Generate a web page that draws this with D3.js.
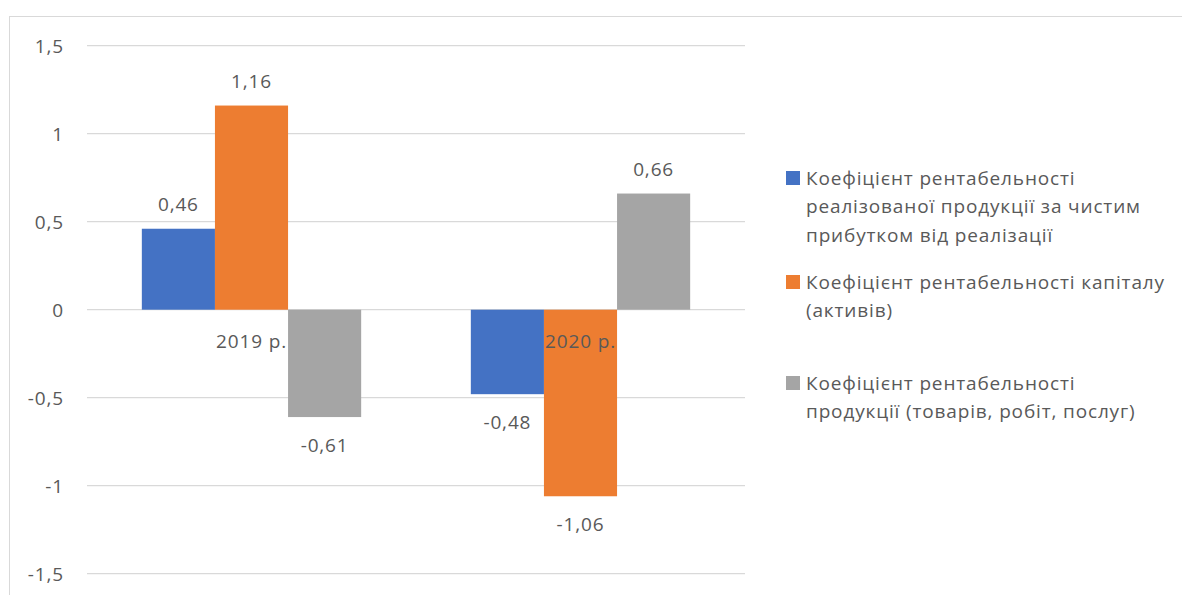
<!DOCTYPE html>
<html>
<head>
<meta charset="utf-8">
<script src="https://cdn.jsdelivr.net/npm/d3@7"></script>
<style>
  html, body { margin: 0; padding: 0; background: #fff; }
  svg { display: block; font-family: "Open Sans", "Noto Sans", sans-serif; }
  svg text { letter-spacing: 0.85px; }
</style>
</head>
<body>
<svg id="chart" width="1182" height="595"></svg>
<script>
// Years on the category axis
const categories = ["2019 р.", "2020 р."];

// Series names (legend), each split into the lines it wraps onto
const seriesNames = [
  ["Коефіцієнт рентабельності", "реалізованої продукції за чистим", "прибутком від реалізації"],
  ["Коефіцієнт рентабельності капіталу", "(активів)"],
  ["Коефіцієнт рентабельності", "продукції (товарів, робіт, послуг)"]
];

// Values per series, in category order
const salesNetProfit = [0.46, -0.48];
const capitalReturn = [1.16, -1.06];
const productReturn = [-0.61, 0.66];

const seriesColors = ["#4472c4", "#ed7d31", "#a5a5a5"];
const yTicks = [-1.5, -1, -0.5, 0, 0.5, 1, 1.5];

const seriesValues = [salesNetProfit, capitalReturn, productReturn];

const svg = d3.select("#chart");
const textColor = "#595959";
const fontSize = 19;
const fmt = v => String(v).replace(".", ",");

// Outer chart frame
svg.append("rect")
  .attr("x", 9.5).attr("y", 16.5)
  .attr("width", 1200).attr("height", 620)
  .attr("fill", "none").attr("stroke", "#d9d9d9");

const plot = { left: 87, right: 745, top: 45.7, bottom: 573.7 };

const y = d3.scaleLinear().domain([-1.5, 1.5]).range([plot.bottom, plot.top]);
const x0 = d3.scaleBand().domain(categories).range([plot.left, plot.right]).paddingInner(0).paddingOuter(0);
// 150% gap width: three bars take 3/(3+1.5) of each band
const groupWidth = x0.bandwidth() * 3 / 4.5;
const x1 = d3.scaleBand().domain(d3.range(seriesValues.length)).range([0, groupWidth]);

// Gridlines
svg.append("g")
  .selectAll("line")
  .data(yTicks)
  .join("line")
  .attr("x1", plot.left).attr("x2", plot.right)
  .attr("y1", d => y(d)).attr("y2", d => y(d))
  .attr("stroke", "#d9d9d9").attr("stroke-width", 1.3);

// Y axis labels
const yAxis = d3.axisLeft(y).tickValues(yTicks).tickSize(0).tickPadding(0).tickFormat(fmt);
const yg = svg.append("g").attr("transform", `translate(64,0)`).call(yAxis);
yg.select(".domain").remove();
yg.selectAll("text")
  .attr("fill", textColor).attr("font-size", fontSize)
  .attr("font-family", "\"Open Sans\", sans-serif")
  .attr("dy", "0.35em");

// Bars
const groups = svg.append("g")
  .selectAll("g")
  .data(categories)
  .join("g")
  .attr("transform", c => `translate(${x0(c) + (x0.bandwidth() - groupWidth) / 2},0)`);

const barData = (c, ci) => seriesValues.map((vals, si) => ({ si, v: vals[ci] }));

groups.each(function (c, ci) {
  const g = d3.select(this);
  const data = barData(c, ci);
  g.selectAll("rect")
    .data(data)
    .join("rect")
    .attr("x", d => x1(d.si))
    .attr("width", x1.bandwidth())
    .attr("y", d => y(Math.max(0, d.v)))
    .attr("height", d => Math.abs(y(d.v) - y(0)))
    .attr("fill", d => seriesColors[d.si]);

  // Value labels
  g.selectAll("text")
    .data(data)
    .join("text")
    .attr("x", d => x1(d.si) + x1.bandwidth() / 2)
    .attr("y", d => d.v >= 0 ? y(d.v) - 24.5 : y(d.v) + 27.5)
    .attr("text-anchor", "middle")
    .attr("dominant-baseline", "central")
    .attr("fill", textColor).attr("font-size", fontSize)
    .text(d => fmt(d.v));
});

// Category labels, sitting just under the zero line
svg.append("g")
  .selectAll("text")
  .data(categories)
  .join("text")
  .attr("x", c => x0(c) + x0.bandwidth() / 2)
  .attr("y", y(0) + 31)
  .attr("text-anchor", "middle")
  .attr("dominant-baseline", "central")
  .attr("fill", textColor).attr("font-size", fontSize)
  .text(c => c);

// Legend
const legendTops = [178, 282, 383];
const lineH = 28.3;
const legend = svg.append("g")
  .selectAll("g")
  .data(seriesNames)
  .join("g")
  .attr("transform", (d, i) => `translate(786,${legendTops[i]})`);

legend.append("rect")
  .attr("x", 0).attr("y", -7)
  .attr("width", 14).attr("height", 14)
  .attr("fill", (d, i) => seriesColors[i]);

legend.each(function (lines) {
  d3.select(this).selectAll("text")
    .data(lines)
    .join("text")
    .attr("x", 20)
    .attr("y", (l, k) => k * lineH)
    .attr("dominant-baseline", "central")
    .attr("fill", textColor).attr("font-size", fontSize)
    .text(l => l);
});
</script>
</body>
</html>
